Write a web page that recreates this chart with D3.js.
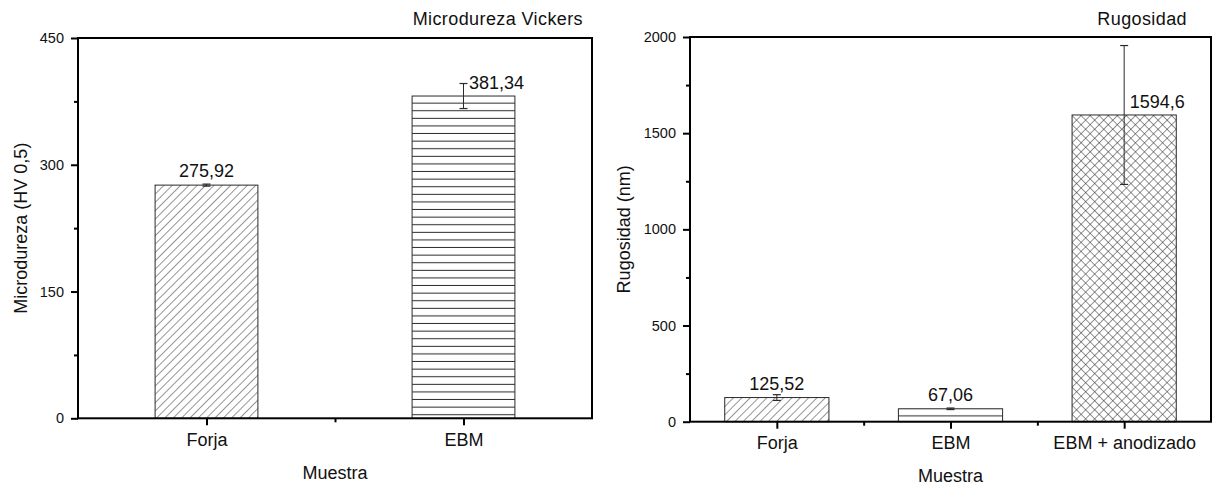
<!DOCTYPE html>
<html>
<head>
<meta charset="utf-8">
<script src="https://cdn.jsdelivr.net/npm/d3@7"></script>
<style>
  html, body { margin: 0; padding: 0; background: #fff; }
  svg { display: block; font-family: "Liberation Sans", Arial, sans-serif; }
</style>
</head>
<body>
<svg id="chart" width="1217" height="485"></svg>
<script>
// Vickers microhardness, HV 0,5
const hardnessCategories = ["Forja", "EBM"];
const hardnessValues = [275.92, 381.34];
const hardnessErrors = [1.2, 14.8];
const hardnessLabels = ["275,92", "381,34"];
const hardnessPatterns = ["diag", "horiz"];
const hardnessTicks = [0, 150, 300, 450];
const hardnessMinorTicks = [75, 225, 375];

// Surface roughness, nm
const roughCategories = ["Forja", "EBM", "EBM + anodizado"];
const roughValues = [125.52, 67.06, 1594.6];
const roughErrors = [15, 4, 361];
const roughLabels = ["125,52", "67,06", "1594,6"];
const roughPatterns = ["diag", "horiz", "cross"];
const roughTicks = [0, 500, 1000, 1500, 2000];
const roughMinorTicks = [250, 750, 1250, 1750];

const svg = d3.select("#chart");
const defs = svg.append("defs");
const INK = "#2a2a2a";
const FONT = '"Liberation Sans", Arial, sans-serif';

function makePattern(id, kind, x0, y0) {
  const p = defs.append("pattern").attr("id", id).attr("patternUnits", "userSpaceOnUse");
  if (kind === "diag") {
    const s = 5.9;
    p.attr("width", s).attr("height", s)
      .attr("patternTransform", `translate(${x0},${y0}) rotate(45)`);
    p.append("line").attr("x1", 0).attr("y1", -1).attr("x2", 0).attr("y2", s + 1)
      .attr("stroke", INK).attr("stroke-width", 1);
  } else if (kind === "horiz") {
    const s = 7.6;
    p.attr("width", 10).attr("height", s)
      .attr("patternTransform", `translate(${x0},${y0})`);
    p.append("line").attr("x1", -1).attr("x2", 11).attr("y1", s - 0.5).attr("y2", s - 0.5)
      .attr("stroke", INK).attr("stroke-width", 1);
  } else {
    const s = 6.4;
    p.attr("width", s).attr("height", s)
      .attr("patternTransform", `translate(${x0},${y0}) rotate(45)`);
    p.append("line").attr("x1", 0).attr("y1", -1).attr("x2", 0).attr("y2", s + 1)
      .attr("stroke", INK).attr("stroke-width", 1);
    p.append("line").attr("x1", -1).attr("y1", 0).attr("x2", s + 1).attr("y2", 0)
      .attr("stroke", INK).attr("stroke-width", 1);
  }
}

function drawPanel(o) {
  const g = svg.append("g").attr("class", o.key);
  const n = o.categories.length;
  const x = d3.scaleLinear().domain([0.5, n + 0.5]).range([o.left, o.right]);
  const y = d3.scaleLinear().domain([o.ticks[0], o.ticks[o.ticks.length - 1]]).range([o.bottom, o.top]);
  const unit = x(2) - x(1);
  const bw = unit * o.barWidth;

  // bars
  o.values.forEach((v, i) => {
    const cx = x(i + 1);
    const x0 = cx - bw / 2, y0 = y(v);
    const pid = `${o.key}-pat-${i}`;
    makePattern(pid, o.patterns[i], x0, y0);
    g.append("rect")
      .attr("x", x0).attr("y", y0)
      .attr("width", bw).attr("height", y(0) - y0)
      .attr("fill", `url(#${pid})`)
      .attr("stroke", INK).attr("stroke-width", 1);
  });

  // error bars
  o.values.forEach((v, i) => {
    const cx = x(i + 1), e = o.errors[i];
    const yt = y(v + e), yb = y(v - e);
    g.append("line").attr("x1", cx).attr("x2", cx).attr("y1", yt).attr("y2", yb)
      .attr("stroke", INK).attr("stroke-width", 1);
    [yt, yb].forEach(yy => g.append("line")
      .attr("x1", cx - 4).attr("x2", cx + 4).attr("y1", yy).attr("y2", yy)
      .attr("stroke", INK).attr("stroke-width", 1.2));
  });

  // value labels: above the bar, moved beside the error bar when it would cross the text
  o.values.forEach((v, i) => {
    const cx = x(i + 1), e = o.errors[i];
    const base = y(v) - 8;
    const clash = y(v + e) < base;
    g.append("text")
      .attr("x", clash ? cx + 5.5 : cx)
      .attr("y", clash ? base + 1 : base)
      .attr("text-anchor", clash ? "start" : "middle")
      .attr("font-size", 18).attr("fill", "#111")
      .text(o.labels[i]);
  });

  // y axis: major and minor ticks pointing outward
  g.append("g").attr("transform", `translate(${o.left},0)`)
    .call(d3.axisLeft(y).tickValues(o.ticks).tickSize(7).tickPadding(7).tickFormat(d3.format("d")))
    .call(a => a.select(".domain").remove())
    .call(a => a.selectAll("line").attr("stroke", "#000").attr("stroke-width", 2))
    .call(a => a.selectAll("text").attr("font-size", 14.5).attr("fill", "#111")
      .attr("font-family", FONT));
  g.append("g").attr("transform", `translate(${o.left},0)`)
    .call(d3.axisLeft(y).tickValues(o.minor).tickSize(4).tickFormat(""))
    .call(a => a.select(".domain").remove())
    .call(a => a.selectAll("line").attr("stroke", "#000").attr("stroke-width", 2));

  // x axis: categories as major ticks, half-way points as minor ticks
  const mids = d3.range(1, n).map(i => i + 0.5);
  g.append("g").attr("transform", `translate(0,${o.bottom})`)
    .call(d3.axisBottom(x).tickValues(d3.range(1, n + 1)).tickSize(7).tickPadding(8)
      .tickFormat(d => o.categories[d - 1]))
    .call(a => a.select(".domain").remove())
    .call(a => a.selectAll("line").attr("stroke", "#000").attr("stroke-width", 2))
    .call(a => a.selectAll("text").attr("font-size", 18).attr("fill", "#111")
      .attr("font-family", FONT));
  g.append("g").attr("transform", `translate(0,${o.bottom})`)
    .call(d3.axisBottom(x).tickValues(mids).tickSize(4).tickFormat(""))
    .call(a => a.select(".domain").remove())
    .call(a => a.selectAll("line").attr("stroke", "#000").attr("stroke-width", 2));

  // frame
  g.append("rect")
    .attr("x", o.left).attr("y", o.top)
    .attr("width", o.right - o.left).attr("height", o.bottom - o.top)
    .attr("fill", "none").attr("stroke", "#000").attr("stroke-width", 2);

  // titles
  g.append("text")
    .attr("x", o.titleX).attr("y", 25).attr("text-anchor", "end")
    .attr("font-size", 18).attr("letter-spacing", 0.4).attr("fill", "#111").text(o.title);
  g.append("text")
    .attr("transform", `translate(${o.yTitleX},${(o.top + o.bottom) / 2}) rotate(-90)`)
    .attr("text-anchor", "middle").attr("font-size", 18).attr("fill", "#111")
    .text(o.yTitle);
  g.append("text")
    .attr("x", (o.left + o.right) / 2).attr("y", o.bottom + o.xTitleDy)
    .attr("text-anchor", "middle").attr("font-size", 18).attr("fill", "#111")
    .text("Muestra");
}

drawPanel({
  key: "hardness",
  categories: hardnessCategories, values: hardnessValues, errors: hardnessErrors,
  labels: hardnessLabels, patterns: hardnessPatterns,
  ticks: hardnessTicks, minor: hardnessMinorTicks,
  left: 78, right: 592, top: 38, bottom: 418.3, barWidth: 0.4,
  title: "Microdureza Vickers", titleX: 583,
  yTitle: "Microdureza (HV 0,5)", yTitleX: 27, xTitleDy: 61
});

drawPanel({
  key: "rough",
  categories: roughCategories, values: roughValues, errors: roughErrors,
  labels: roughLabels, patterns: roughPatterns,
  ticks: roughTicks, minor: roughMinorTicks,
  left: 690, right: 1211, top: 37, bottom: 421.7, barWidth: 0.6,
  title: "Rugosidad", titleX: 1187,
  yTitle: "Rugosidad (nm)", yTitleX: 630, xTitleDy: 60
});
</script>
</body>
</html>
